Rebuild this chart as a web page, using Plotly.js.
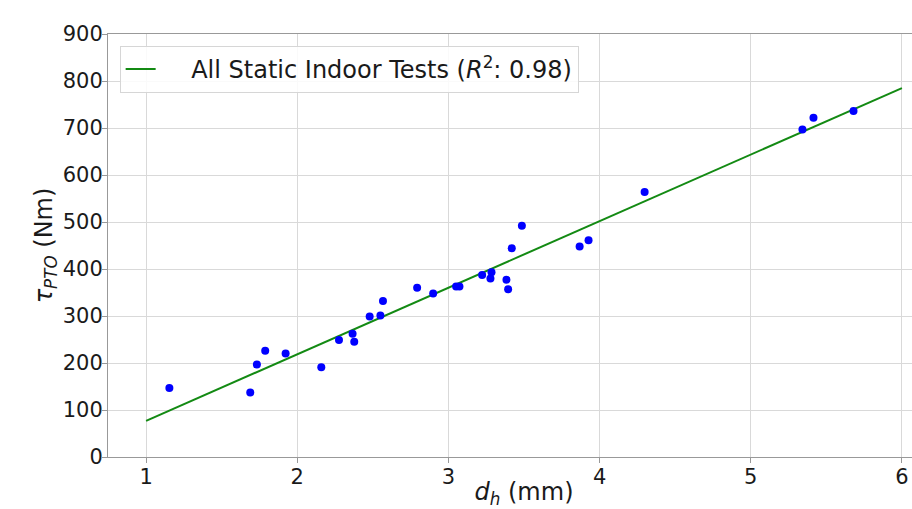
<!DOCTYPE html>
<html>
<head>
<meta charset="utf-8">
<script src="https://cdn.plot.ly/plotly-3.0.1.min.js"></script>
<style>html,body{margin:0;padding:0;background:#fff;overflow:hidden;}#wrap{width:912px;height:509px;overflow:hidden;}#chart{width:940px;height:509px;}</style>
</head>
<body>
<div id="wrap"><div id="chart"></div></div>
<script>
// Measured data points (d_h in mm, torque in Nm)
const dh = [1.154, 1.689, 1.733, 1.788, 1.923, 2.159, 2.276, 2.366, 2.377, 2.479, 2.550, 2.567,
            2.793, 2.899, 3.051, 3.073, 3.223, 3.285, 3.278, 3.384, 3.395, 3.419, 3.486,
            3.868, 3.927, 4.298, 5.342, 5.415, 5.680];
const tau = [147, 137, 197, 226, 220, 191, 249, 262, 245, 299, 301, 332,
             360, 348, 363, 363, 387, 393, 380, 377, 357, 444, 492,
             448, 461, 564, 697, 722, 736];
// Linear fit line endpoints
const fitX = [1, 6];
const fitY = [77, 785];
const fitLabel = "\u00A0\u00A0\u00A0\u00A0All Static Indoor Tests (<i>R</i><sup>2</sup>: 0.98)";
const xTicks = [1, 2, 3, 4, 5, 6];
const yTicks = [0, 100, 200, 300, 400, 500, 600, 700, 800, 900];

const font = "DejaVu Sans, sans-serif";
const traces = [
  {x: fitX, y: fitY, type: "scatter", mode: "lines", name: fitLabel,
   line: {color: "#138a13", width: 2}, showlegend: true},
  {x: dh, y: tau, type: "scatter", mode: "markers", name: "data",
   marker: {color: "#0000ff", size: 8}, showlegend: false}
];
const layout = {
  width: 940, height: 509,
  margin: {l: 108, r: 0, t: 34, b: 52},
  paper_bgcolor: "#fff", plot_bgcolor: "#fff",
  font: {family: font, size: 21, color: "#1a1a1a"},
  showlegend: true,
  legend: {x: 0.014, y: 0.972, xanchor: "left", yanchor: "top",
           bgcolor: "rgba(255,255,255,0.85)", bordercolor: "#d6d6d6", borderwidth: 1,
           font: {family: font, size: 24, color: "#1a1a1a"}},
  xaxis: {range: [0.748, 6.252], tickvals: xTicks, ticktext: xTicks.map(String),
          showgrid: true, gridcolor: "#d9d9d9", gridwidth: 1, zeroline: false,
          showline: true, linecolor: "#999", linewidth: 1, mirror: true,
          ticks: "outside", ticklen: 5, tickcolor: "#999", ticklabelstandoff: -4,
          tickfont: {size: 21},
          title: {text: "<i>d<sub>h</sub></i> (mm)", font: {size: 24}, standoff: 4}},
  yaxis: {range: [0, 900], tickvals: yTicks, ticktext: yTicks.map(String),
          showgrid: true, gridcolor: "#d9d9d9", gridwidth: 1, zeroline: false,
          showline: true, linecolor: "#999", linewidth: 1,
          ticks: "outside", ticklen: 5, tickcolor: "#999", ticklabelstandoff: -5,
          tickfont: {size: 21},
          title: {text: "<i>τ<sub>PTO</sub></i> (Nm)", font: {size: 24}, standoff: 3}}
};
Plotly.newPlot("chart", traces, layout, {staticPlot: true, displayModeBar: false});
</script>
</body>
</html>
